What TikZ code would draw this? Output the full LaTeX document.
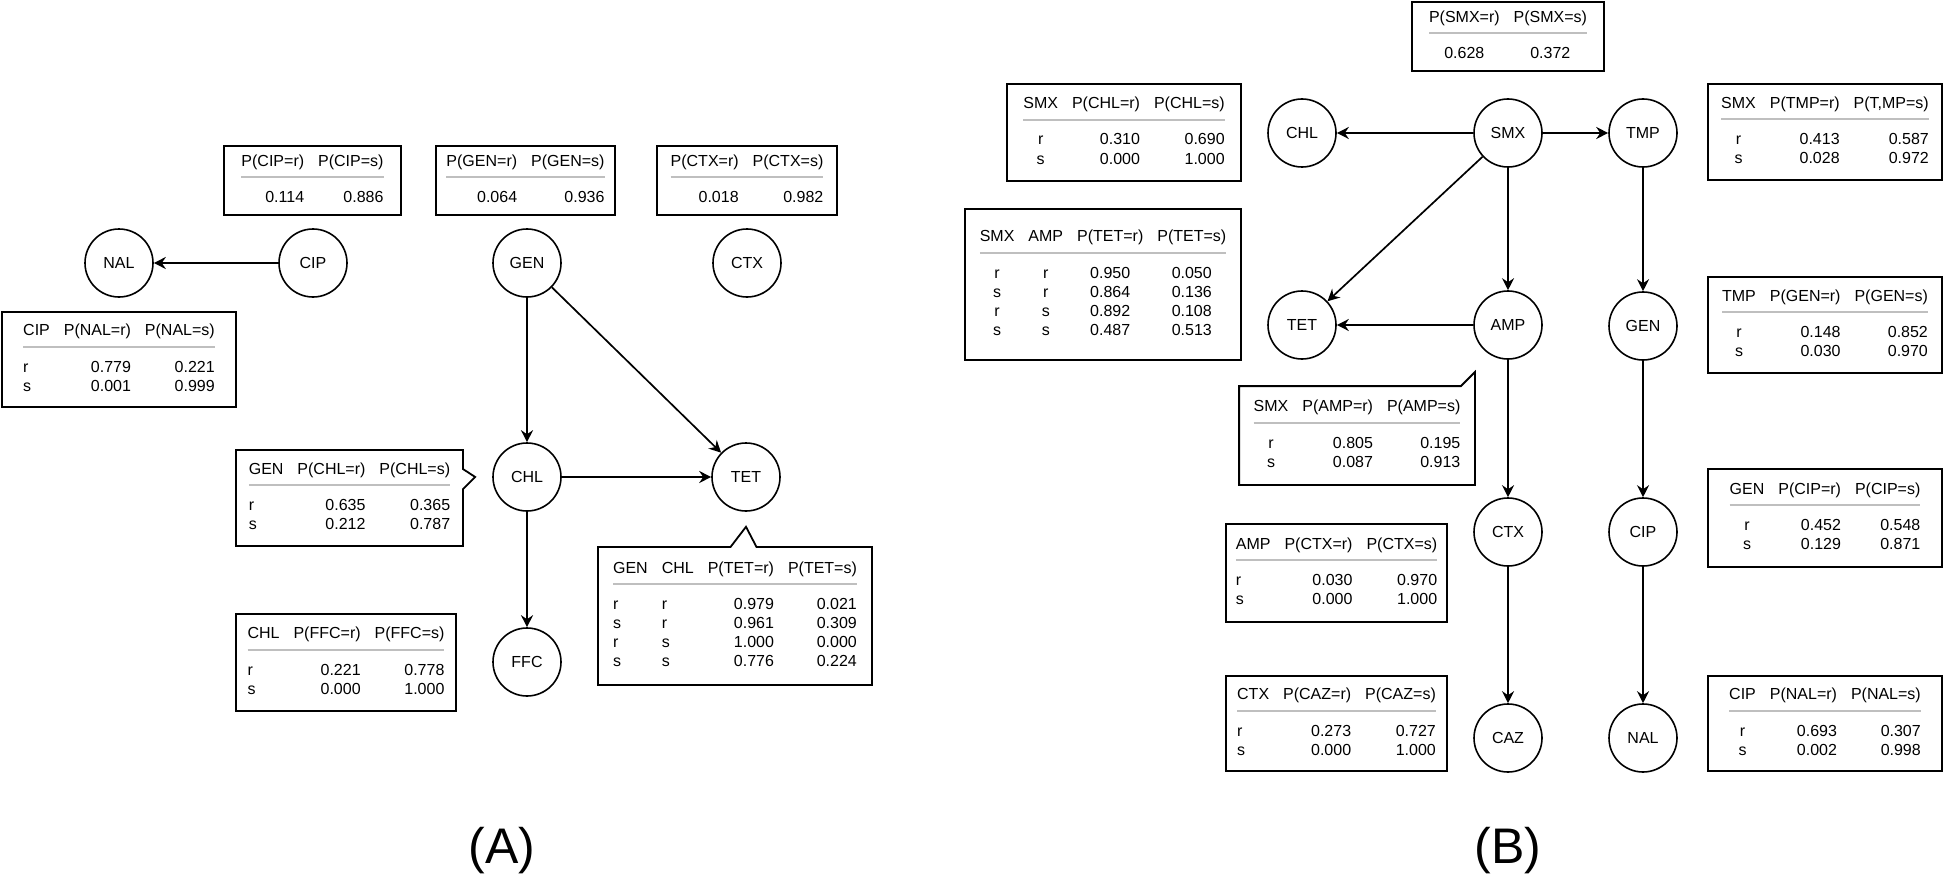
\documentclass[tikz,border=0pt]{standalone}
\usepackage{fontspec}
\setmainfont{Liberation Sans}
\usepackage{colortbl}
\usetikzlibrary{arrows.meta,shapes.callouts}

\setlength{\tabcolsep}{3.5pt}
\setlength{\arrayrulewidth}{1pt}
\arrayrulecolor{gray!50}
\newcommand{\hdrule}{\\[2.2pt]\hline\noalign{\vskip 5.5pt}}

\tikzset{
	var/.style={circle,draw,line width=0.8pt,minimum size=34pt,inner sep=0pt,font=\fontsize{8}{9.5}\selectfont},
	cpt/.style={rectangle,draw,line width=0.9pt,inner sep=0pt,font=\fontsize{8}{9.5}\selectfont},
	link/.style={-{Stealth[length=6pt,width=6pt,inset=2pt]},line width=0.85pt},
	panel/.style={font=\fontsize{25}{30}\selectfont}
}

\begin{document}
\begin{tikzpicture}[x=0.5pt,y=-0.5pt]
		\useasboundingbox (0,0) rectangle (1944,883);
		% (A)
		\node[var] (nalA) at (119,263) {NAL};
		\node[var] (cipA) at (313,263) {CIP};
		\node[var] (genA) at (527,263) {GEN};
		\node[var] (ctxA) at (747,263) {CTX};
		\node[var] (chlA) at (527,477) {CHL};
		\node[var] (tetA) at (746,477) {TET};
		\node[var] (ffcA) at (527,662) {FFC};
		\draw[link] (cipA) -- (nalA);
		\draw[link] (genA) -- (chlA);
		\draw[link] (genA) -- (tetA);
		\draw[link] (chlA) -- (tetA);
		\draw[link] (chlA) -- (ffcA);
		\node[cpt,minimum width=88.5pt,minimum height=34.5pt] (pCIPa) at (312.5,180.5) {\begin{tabular}{@{}rr@{}}P(CIP=r) & P(CIP=s)\hdrule 0.114 & 0.886\end{tabular}};
		\node[cpt,minimum width=89.5pt,minimum height=34.5pt] (pGENa) at (525.5,180.5) {\begin{tabular}{@{}rr@{}}P(GEN=r) & P(GEN=s)\hdrule 0.064 & 0.936\end{tabular}};
		\node[cpt,minimum width=90pt,minimum height=34.5pt] (pCTXa) at (747,180.5) {\begin{tabular}{@{}rr@{}}P(CTX=r) & P(CTX=s)\hdrule 0.018 & 0.982\end{tabular}};
		\node[cpt,minimum width=117pt,minimum height=47.5pt] (tNALa) at (119,359.5) {\begin{tabular}{@{}lrr@{}}CIP & P(NAL=r) & P(NAL=s)\hdrule r & 0.779 & 0.221\\ s & 0.001 & 0.999\end{tabular}};
		\node[cpt,rectangle callout,callout absolute pointer={([xshift=-8.5pt]chlA.west)},callout pointer width=10pt,minimum width=113.5pt,minimum height=48pt] (tCHLa) at (349.5,498) {\begin{tabular}{@{}lrr@{}}GEN & P(CHL=r) & P(CHL=s)\hdrule r & 0.635 & 0.365\\ s & 0.212 & 0.787\end{tabular}};
		\node[cpt,minimum width=110pt,minimum height=48.5pt] (tFFCa) at (346,662.5) {\begin{tabular}{@{}lrr@{}}CHL & P(FFC=r) & P(FFC=s)\hdrule r & 0.221 & 0.778\\ s & 0.000 & 1.000\end{tabular}};
		\node[cpt,rectangle callout,callout absolute pointer={([yshift=-7.5pt]tetA.south)},callout pointer width=13pt,minimum width=137pt,minimum height=69pt] (tTETa) at (735,616) {\begin{tabular}{@{}llrr@{}}GEN & CHL & P(TET=r) & P(TET=s)\hdrule r & r & 0.979 & 0.021\\ s & r & 0.961 & 0.309\\ r & s & 1.000 & 0.000\\ s & s & 0.776 & 0.224\end{tabular}};
		\node[panel] (labA) at (502,851) {(A)};
		% (B)
		\node[var] (chlB) at (1302,133) {CHL};
		\node[var] (smxB) at (1508,133) {SMX};
		\node[var] (tmpB) at (1643,133) {TMP};
		\node[var] (tetB) at (1302,325) {TET};
		\node[var] (ampB) at (1508,325) {AMP};
		\node[var] (genB) at (1643,326) {GEN};
		\node[var] (ctxB) at (1508,532) {CTX};
		\node[var] (cipB) at (1643,532) {CIP};
		\node[var] (cazB) at (1508,738) {CAZ};
		\node[var] (nalB) at (1643,738) {NAL};
		\draw[link] (smxB) -- (chlB);
		\draw[link] (smxB) -- (tmpB);
		\draw[link] (smxB) -- (tetB);
		\draw[link] (smxB) -- (ampB);
		\draw[link] (ampB) -- (tetB);
		\draw[link] (ampB) -- (ctxB);
		\draw[link] (ctxB) -- (cazB);
		\draw[link] (tmpB) -- (genB);
		\draw[link] (genB) -- (cipB);
		\draw[link] (cipB) -- (nalB);
		\node[cpt,minimum width=96pt,minimum height=34.5pt] (pSMXb) at (1508,36.5) {\begin{tabular}{@{}cc@{}}P(SMX=r) & P(SMX=s)\hdrule 0.628 & 0.372\end{tabular}};
		\node[cpt,minimum width=117pt,minimum height=48.5pt] (tCHLb) at (1124,132.5) {\begin{tabular}{@{}crr@{}}SMX & P(CHL=r) & P(CHL=s)\hdrule r & 0.310 & 0.690\\ s & 0.000 & 1.000\end{tabular}};
		\node[cpt,minimum width=138pt,minimum height=75.5pt] (tTETb) at (1103,284.5) {\begin{tabular}{@{}cccc@{}}SMX & AMP & P(TET=r) & P(TET=s)\hdrule r & r & 0.950 & 0.050\\ s & r & 0.864 & 0.136\\ r & s & 0.892 & 0.108\\ s & s & 0.487 & 0.513\end{tabular}};
		\node[cpt,draw=none,minimum width=117pt,minimum height=48.5pt] (tAMPb) at (1357,435.5) {\begin{tabular}{@{}crr@{}}SMX & P(AMP=r) & P(AMP=s)\hdrule r & 0.805 & 0.195\\ s & 0.087 & 0.913\end{tabular}};
		\draw[line width=0.9pt] (tAMPb.north west) -- ([xshift=-7pt]tAMPb.north east) -- ([yshift=7pt]tAMPb.north east) -- (tAMPb.south east) -- (tAMPb.south west) -- cycle;
		\node[cpt,minimum width=110.5pt,minimum height=49pt] (tCTXb) at (1336.5,573) {\begin{tabular}{@{}lrr@{}}AMP & P(CTX=r) & P(CTX=s)\hdrule r & 0.030 & 0.970\\ s & 0.000 & 1.000\end{tabular}};
		\node[cpt,minimum width=110.5pt,minimum height=47.5pt] (tCAZb) at (1336.5,723.5) {\begin{tabular}{@{}lrr@{}}CTX & P(CAZ=r) & P(CAZ=s)\hdrule r & 0.273 & 0.727\\ s & 0.000 & 1.000\end{tabular}};
		\node[cpt,minimum width=117pt,minimum height=48pt] (tTMPb) at (1825,132) {\begin{tabular}{@{}crr@{}}SMX & P(TMP=r) & P(T,MP=s)\hdrule r & 0.413 & 0.587\\ s & 0.028 & 0.972\end{tabular}};
		\node[cpt,minimum width=117pt,minimum height=48pt] (tGENb) at (1825,325) {\begin{tabular}{@{}crr@{}}TMP & P(GEN=r) & P(GEN=s)\hdrule r & 0.148 & 0.852\\ s & 0.030 & 0.970\end{tabular}};
		\node[cpt,minimum width=117pt,minimum height=49pt] (tCIPb) at (1825,518) {\begin{tabular}{@{}crr@{}}GEN & P(CIP=r) & P(CIP=s)\hdrule r & 0.452 & 0.548\\ s & 0.129 & 0.871\end{tabular}};
		\node[cpt,minimum width=117pt,minimum height=47.5pt] (tNALb) at (1825,723.5) {\begin{tabular}{@{}crr@{}}CIP & P(NAL=r) & P(NAL=s)\hdrule r & 0.693 & 0.307\\ s & 0.002 & 0.998\end{tabular}};
		\node[panel] (labB) at (1508,851) {(B)};
	\end{tikzpicture}
\end{document}
